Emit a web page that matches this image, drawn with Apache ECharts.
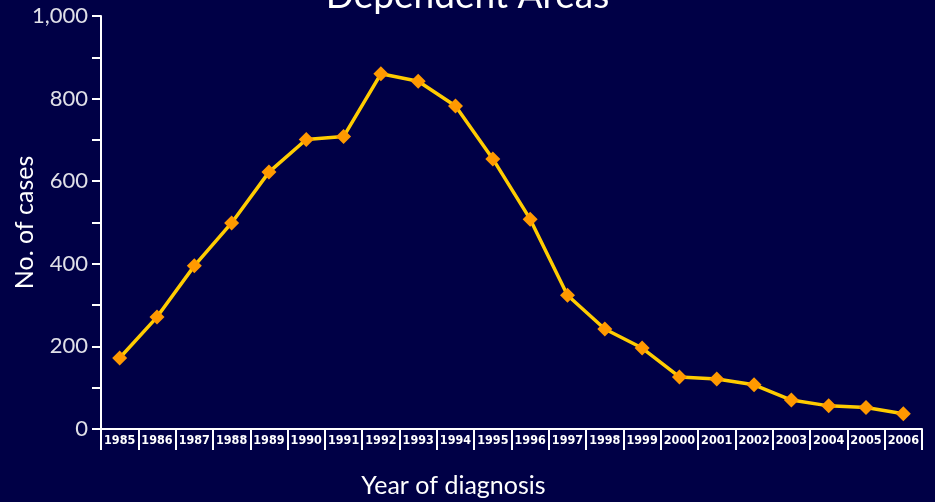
<!DOCTYPE html>
<html><head><meta charset="utf-8">
<script src="https://cdn.jsdelivr.net/npm/echarts@6/dist/echarts.min.js"></script>
<style>html,body{margin:0;padding:0;background:#000046;}#c{width:935px;height:502px;}</style>
</head><body><div id="c"></div>
<script>
const years = ['1985','1986','1987','1988','1989','1990','1991','1992','1993','1994','1995','1996','1997','1998','1999','2000','2001','2002','2003','2004','2005','2006'];
const cases = [172,271,395,499,622,701,708,860,842,782,654,508,324,242,196,126,121,107,70,56,52,37];
const yTicks = [0,200,400,600,800,1000];

const chart = echarts.init(document.getElementById('c'));
chart.setOption({
  backgroundColor: '#000046',
  animation: false,
  title: {
    text: 'Dependent Areas', left: 'center', top: -27,
    textStyle: {color: '#ffffff', fontSize: 37, fontWeight: 'normal', fontFamily: 'Lato'}
  },
  grid: {left: 101, right: 13, top: 16, bottom: 73, containLabel: false, outerBoundsMode: 'none'},
  xAxis: {
    type: 'category', data: years, boundaryGap: true,
    axisLine: {lineStyle: {color: '#ffffff', width: 2}},
    axisTick: {show: true, inside: false, length: 21, lineStyle: {color: '#ffffff', width: 2}},
    axisLabel: {color: '#ffffff', fontSize: 12.5, fontWeight: 'bold', fontFamily: 'DejaVu Sans Condensed', margin: 5, interval: 0},
    name: 'Year of diagnosis', nameLocation: 'middle', nameGap: 44, nameMoveOverlap: false,
    nameTextStyle: {color: '#ffffff', fontSize: 25, fontFamily: 'Lato', padding: [0, 116, 0, 0]}
  },
  yAxis: {
    type: 'value', min: 0, max: 1000, interval: 200,
    axisLine: {show: true, lineStyle: {color: '#ffffff', width: 2}},
    axisTick: {show: true, length: 9, lineStyle: {color: '#ffffff', width: 2}},
    minorTick: {show: true, splitNumber: 2, length: 9, lineStyle: {color: '#ffffff', width: 2}},
    splitLine: {show: false},
    axisLabel: {color: '#e0e0e8', fontSize: 22, fontFamily: 'Lato', margin: 13,
      formatter: v => yTicks.includes(v) ? v.toLocaleString('en-US') : ''},
    name: 'No. of cases', nameLocation: 'middle', nameGap: 64, nameRotate: 90, nameMoveOverlap: false,
    nameTextStyle: {color: '#ffffff', fontSize: 25, fontFamily: 'Lato'}
  },
  series: [{
    type: 'line', data: cases,
    lineStyle: {color: '#ffcc00', width: 3.5},
    symbol: 'diamond', symbolSize: 15,
    itemStyle: {color: '#ff9900'}
  }]
});
</script></body></html>
